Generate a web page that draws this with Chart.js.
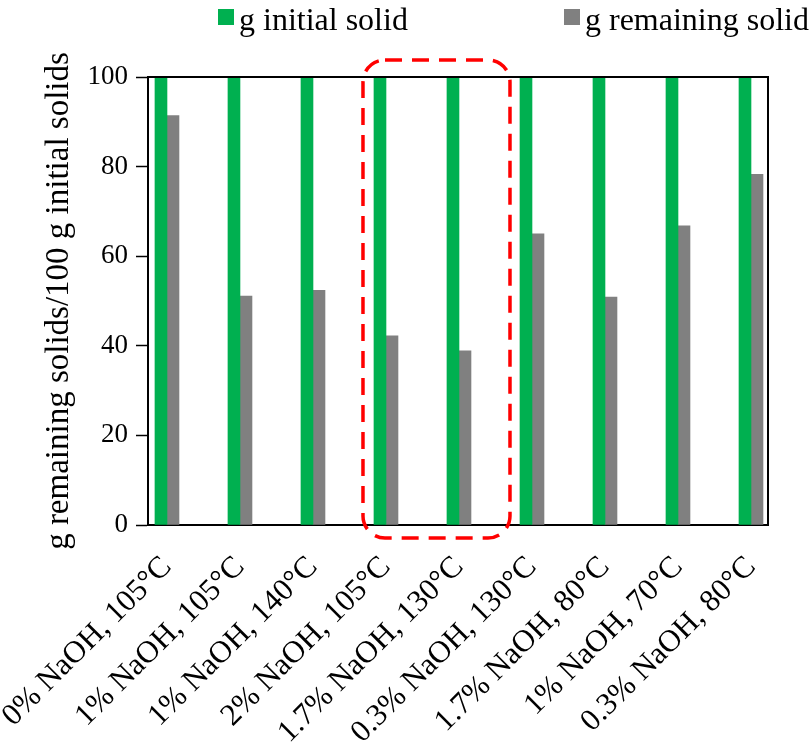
<!DOCTYPE html>
<html>
<head>
<meta charset="utf-8">
<script src="https://cdn.jsdelivr.net/npm/chart.js@4/dist/chart.umd.min.js"></script>
<style>
  html, body { margin: 0; padding: 0; background: #fff; }
  canvas { display: block; }
</style>
</head>
<body>
<canvas id="chart" width="812" height="752"></canvas>
<script>
// Pretreatment conditions (NaOH loading, temperature)
const conditions = [
  '0% NaOH, 105°C', '1% NaOH, 105°C', '1% NaOH, 140°C',
  '2% NaOH, 105°C', '1.7% NaOH, 130°C', '0.3% NaOH, 130°C',
  '1.7% NaOH, 80°C', '1% NaOH, 70°C', '0.3% NaOH, 80°C'
];
// g solids per 100 g of initial solids
const initialSolid   = [100, 100, 100, 100, 100, 100, 100, 100, 100];
const remainingSolid = [91.4, 51.1, 52.4, 42.2, 38.9, 65.0, 50.9, 66.8, 78.3];
const yTicks = [0, 20, 40, 60, 80, 100];
// conditions outlined with the dashed box
const highlighted = [3, 4];

const SERIF = '"Liberation Serif", "Times New Roman", serif';

// closes the plot frame on the top and right sides
const framePlugin = {
  id: 'frame',
  afterDatasetsDraw(chart) {
    const { ctx, chartArea: a } = chart;
    ctx.save();
    ctx.strokeStyle = '#000';
    ctx.lineWidth = 2;
    ctx.beginPath();
    ctx.moveTo(a.left, a.top);
    ctx.lineTo(a.right, a.top);
    ctx.lineTo(a.right, a.bottom);
    ctx.stroke();
    ctx.restore();
  }
};

// red dashed rounded box around the highlighted conditions
const highlightPlugin = {
  id: 'highlight',
  afterDraw(chart, args, o) {
    const { ctx, scales: { x, y } } = chart;
    const left = x.getPixelForValue(highlighted[0]) - o.padLeft;
    const right = x.getPixelForValue(highlighted[highlighted.length - 1]) + o.padRight;
    const top = y.getPixelForValue(y.max) - o.padTop;
    const bottom = y.getPixelForValue(y.min) + o.padBottom;
    ctx.save();
    ctx.strokeStyle = o.color;
    ctx.lineWidth = o.width;
    ctx.setLineDash(o.dash);
    ctx.beginPath();
    ctx.roundRect(left, top, right - left, bottom - top, o.radius);
    ctx.stroke();
    ctx.restore();
  }
};

// legend row across the top
const topLegendPlugin = {
  id: 'topLegend',
  afterDraw(chart, args, o) {
    const ctx = chart.ctx;
    ctx.save();
    ctx.font = o.fontSize + 'px ' + SERIF;
    ctx.textBaseline = 'alphabetic';
    chart.data.datasets.forEach((ds, i) => {
      const x0 = o.itemX[i];
      ctx.fillStyle = ds.backgroundColor;
      ctx.fillRect(x0, o.boxTop, o.boxSize, o.boxSize);
      ctx.fillStyle = '#000';
      ctx.fillText(ds.label, x0 + o.boxSize + o.gap, o.baseline);
    });
    ctx.restore();
  }
};

new Chart(document.getElementById('chart'), {
  type: 'bar',
  data: {
    datasets: [
      {
        label: 'g initial solid',
        data: initialSolid.map((v, i) => ({ x: i, y: v })),
        backgroundColor: '#00B050',
        barThickness: 12
      },
      {
        label: 'g remaining solid',
        data: remainingSolid.map((v, i) => ({ x: i, y: v })),
        backgroundColor: '#808080',
        barThickness: 12
      }
    ]
  },
  plugins: [framePlugin, highlightPlugin, topLegendPlugin],
  options: {
    responsive: false,
    animation: false,
    devicePixelRatio: 1,
    layout: { padding: { top: 77, right: 44, left: 0, bottom: 0 } },
    plugins: {
      legend: { display: false },
      tooltip: { enabled: false },
      topLegend: { itemX: [218, 564], boxTop: 9, boxSize: 16, gap: 5, baseline: 30, fontSize: 32 },
      highlight: { padLeft: 23, padRight: 51, padTop: 17, padBottom: 13, radius: 22, width: 3.5, dash: [17, 10], color: '#FF0000' }
    },
    scales: {
      x: {
        type: 'linear',
        offset: false,
        bounds: 'data',
        min: -0.26,
        max: 8.233,
        afterBuildTicks: s => { s.ticks = conditions.map((_, i) => ({ value: i })); },
        // long rotated labels may run off the left edge instead of pushing the plot over
        afterFit: s => { s.height = 227; s.paddingLeft = 0; s.paddingRight = 0; },
        ticks: {
          autoSkip: false,
          minRotation: 45,
          maxRotation: 45,
          padding: 24,
          color: '#000',
          font: { family: SERIF, size: 31 },
          callback: v => conditions[v]
        },
        grid: { offset: false, drawOnChartArea: false, drawTicks: false },
        border: { color: '#000', width: 2 }
      },
      y: {
        min: 0,
        max: 100,
        afterBuildTicks: s => { s.ticks = yTicks.map(v => ({ value: v })); },
        afterFit: s => { s.width = 148; },
        ticks: {
          padding: 8,
          color: '#000',
          font: { family: SERIF, size: 27 }
        },
        grid: { drawOnChartArea: false, tickLength: 12, tickColor: '#000', tickWidth: 1.5 },
        border: { color: '#000', width: 2 },
        title: {
          display: true,
          text: 'g remaining solids/100 g initial solids',
          color: '#000',
          font: { family: SERIF, size: 33 },
          padding: { top: 40, bottom: 0 }
        }
      }
    }
  }
});
</script>
</body>
</html>
